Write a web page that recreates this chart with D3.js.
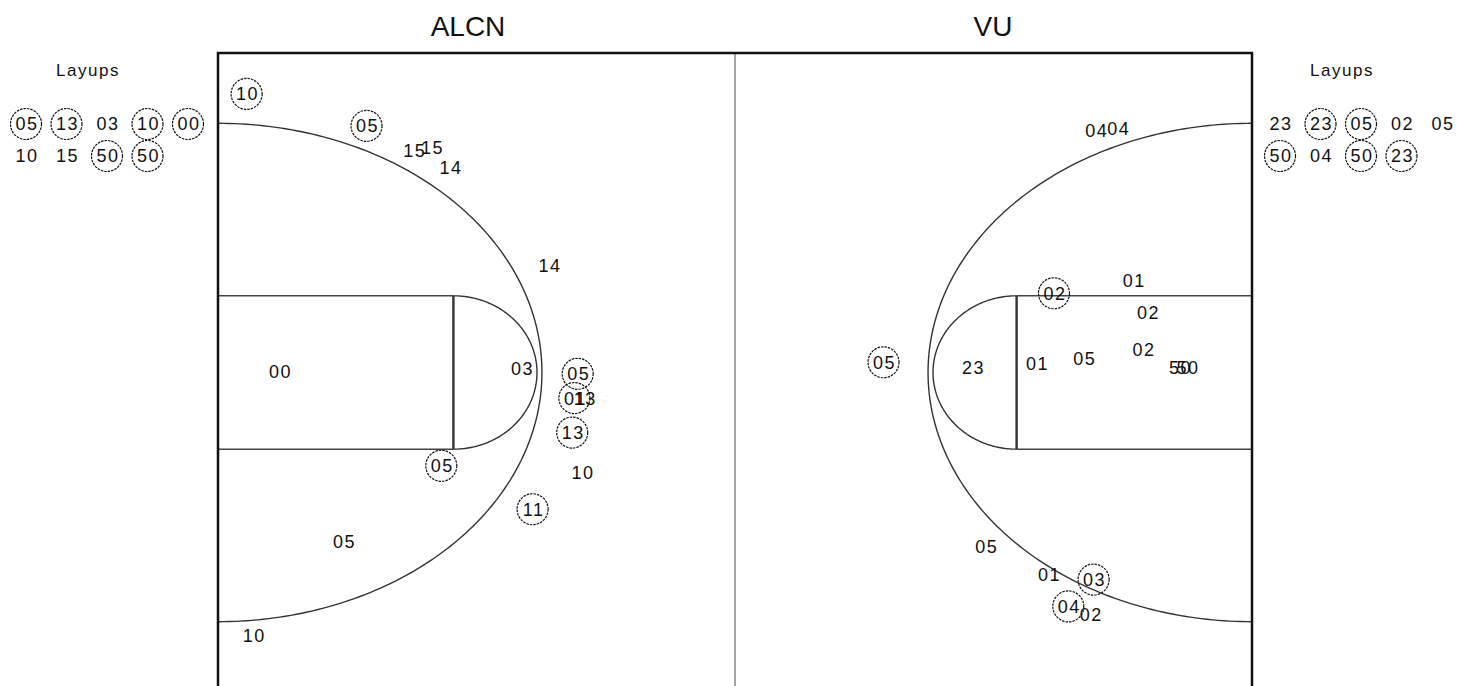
<!DOCTYPE html>
<html>
<head>
<meta charset="utf-8">
<script src="https://cdn.jsdelivr.net/npm/d3@7"></script>
<style>
  body { margin: 0; background: #fff; }
  svg text { font-family: "Liberation Sans", Arial, sans-serif; fill: #111; }
</style>
</head>
<body>
<svg id="chart" width="1458" height="686"></svg>
<script>
// court is in feet, 94 x 50
var teams = ['ALCN', 'VU']

// shots on the floor: label, x (ft), y (ft), made
var alcnShots = [
  ['10', 2.6, 3.2, 1], ['05', 13.5, 5.7, 1], ['15', 17.8, 7.65, 0], ['15', 19.4, 7.4, 0],
  ['14', 21.1, 8.95, 0], ['14', 30.1, 16.6, 0], ['00', 5.6, 24.9, 0], ['03', 27.6, 24.7, 0],
  ['05', 32.7, 25.1, 1], ['01', 32.4, 27.0, 1], ['13', 33.3, 27.0, 0], ['13', 32.2, 29.7, 1],
  ['10', 33.1, 32.8, 0], ['05', 20.3, 32.3, 1], ['11', 28.6, 35.7, 1], ['05', 11.4, 38.2, 0],
  ['10', 3.2, 45.6, 0]
]
var vuShots = [
  ['04', 79.8, 6.1, 0], ['04', 81.8, 5.9, 0], ['01', 83.2, 17.8, 0], ['02', 76.0, 18.8, 1],
  ['02', 84.5, 20.3, 0], ['05', 60.5, 24.2, 1], ['23', 68.6, 24.6, 0], ['01', 74.4, 24.3, 0],
  ['05', 78.7, 23.9, 0], ['02', 84.1, 23.2, 0], ['50', 87.4, 24.6, 0], ['50', 88.1, 24.6, 0],
  ['05', 69.8, 38.6, 0], ['01', 75.5, 40.8, 0], ['03', 79.6, 41.2, 1], ['04', 77.3, 43.3, 1],
  ['02', 79.3, 43.9, 0]
]

// layups listed beside the court
var alcnLayups = ['05', '13', '03', '10', '00', '10', '15', '50', '50']
var alcnLayupMade = [1, 1, 0, 1, 1, 0, 0, 1, 1]
var vuLayups = ['23', '23', '05', '02', '05', '50', '04', '50', '23']
var vuLayupMade = [0, 1, 1, 0, 0, 1, 0, 1, 1]

var svg = d3.select('#chart')

var x = d3.scaleLinear().domain([0, 94]).range([218, 1252])
var y = d3.scaleLinear().domain([0, 50]).range([53, 692])

var court = svg.append('g')

// ellipse arc opening from the baseline
function arcPath (cx, rx, ry, dir) {
  var pts = d3.range(-90, 90.5, 1).map(function (a) {
    var t = a * Math.PI / 180
    return [x(cx + dir * rx * Math.cos(t)), y(25 + ry * Math.sin(t))]
  })
  return d3.line()(pts)
}

// midline
court.append('line')
  .attr('x1', x(47)).attr('x2', x(47))
  .attr('y1', y(0)).attr('y2', y(50))
  .attr('stroke', '#999').attr('stroke-width', 1.8)

;[[0, 1], [94, -1]].forEach(function (s) {
  var base = s[0], dir = s[1]
  var ft = base + dir * 21.4
  // lane
  court.append('path')
    .attr('d', d3.line()([[x(base), y(19)], [x(ft), y(19)]]))
    .attr('stroke', '#444').attr('stroke-width', 1.4).attr('fill', 'none')
  court.append('path')
    .attr('d', d3.line()([[x(base), y(31)], [x(ft), y(31)]]))
    .attr('stroke', '#444').attr('stroke-width', 1.4).attr('fill', 'none')
  court.append('line')
    .attr('x1', x(ft)).attr('x2', x(ft))
    .attr('y1', y(19)).attr('y2', y(31))
    .attr('stroke', '#333').attr('stroke-width', 2.4)
  // free throw half circle
  court.append('path')
    .attr('d', arcPath(ft, 7.6, 6, dir))
    .attr('stroke', '#333').attr('stroke-width', 1.4).attr('fill', 'none')
  // three point arc
  court.append('path')
    .attr('d', arcPath(base, 29.45, 19.5, dir))
    .attr('stroke', '#333').attr('stroke-width', 1.4).attr('fill', 'none')
})

// outline
court.append('rect')
  .attr('x', x(0)).attr('y', y(0))
  .attr('width', x(94) - x(0)).attr('height', y(50) - y(0))
  .attr('fill', 'none').attr('stroke', '#111').attr('stroke-width', 2.5)

// team titles
svg.selectAll('text.title')
  .data(teams)
  .enter().append('text')
  .attr('class', 'title')
  .attr('x', function (d, i) { return i === 0 ? 468 : 993 })
  .attr('y', 36)
  .attr('text-anchor', 'middle')
  .style('font-size', '28px')
  .text(function (d) { return d })

function drawShots (g, data) {
  var s = g.selectAll('g.shot')
    .data(data)
    .enter().append('g')
    .attr('class', 'shot')
    .attr('transform', function (d) { return 'translate(' + d.px + ',' + d.py + ')' })

  s.filter(function (d) { return d.made })
    .append('circle')
    .attr('r', 15.5)
    .attr('fill', 'none')
    .attr('stroke', '#111')
    .attr('stroke-width', 1.2)
    .attr('stroke-dasharray', '2.5,1')

  s.append('text')
    .attr('text-anchor', 'middle')
    .attr('dx', 1)
    .attr('dy', '0.36em')
    .style('font-size', '18px')
    .style('letter-spacing', '1.5px')
    .text(function (d) { return d.label })
}

var floorShots = alcnShots.concat(vuShots).map(function (d) {
  return { label: d[0], px: x(d[1]), py: y(d[2]), made: d[3] }
})
drawShots(svg.append('g'), floorShots)

// layup lists
var colX = d3.scaleLinear().domain([0, 1]).range([0, 40.5])
function layupList (labels, made, x0, header) {
  var g = svg.append('g')
  g.append('text')
    .attr('x', x0 + 62).attr('y', 76)
    .attr('text-anchor', 'middle')
    .style('font-size', '17px')
    .style('letter-spacing', '1.5px')
    .text(header)
  var data = labels.map(function (l, i) {
    return { label: l, made: made[i], px: x0 + colX(i % 5), py: 124 + Math.floor(i / 5) * 32 }
  })
  drawShots(g, data)
}
layupList(alcnLayups, alcnLayupMade, 26, 'Layups')
layupList(vuLayups, vuLayupMade, 1280, 'Layups')
</script>
</body>
</html>
